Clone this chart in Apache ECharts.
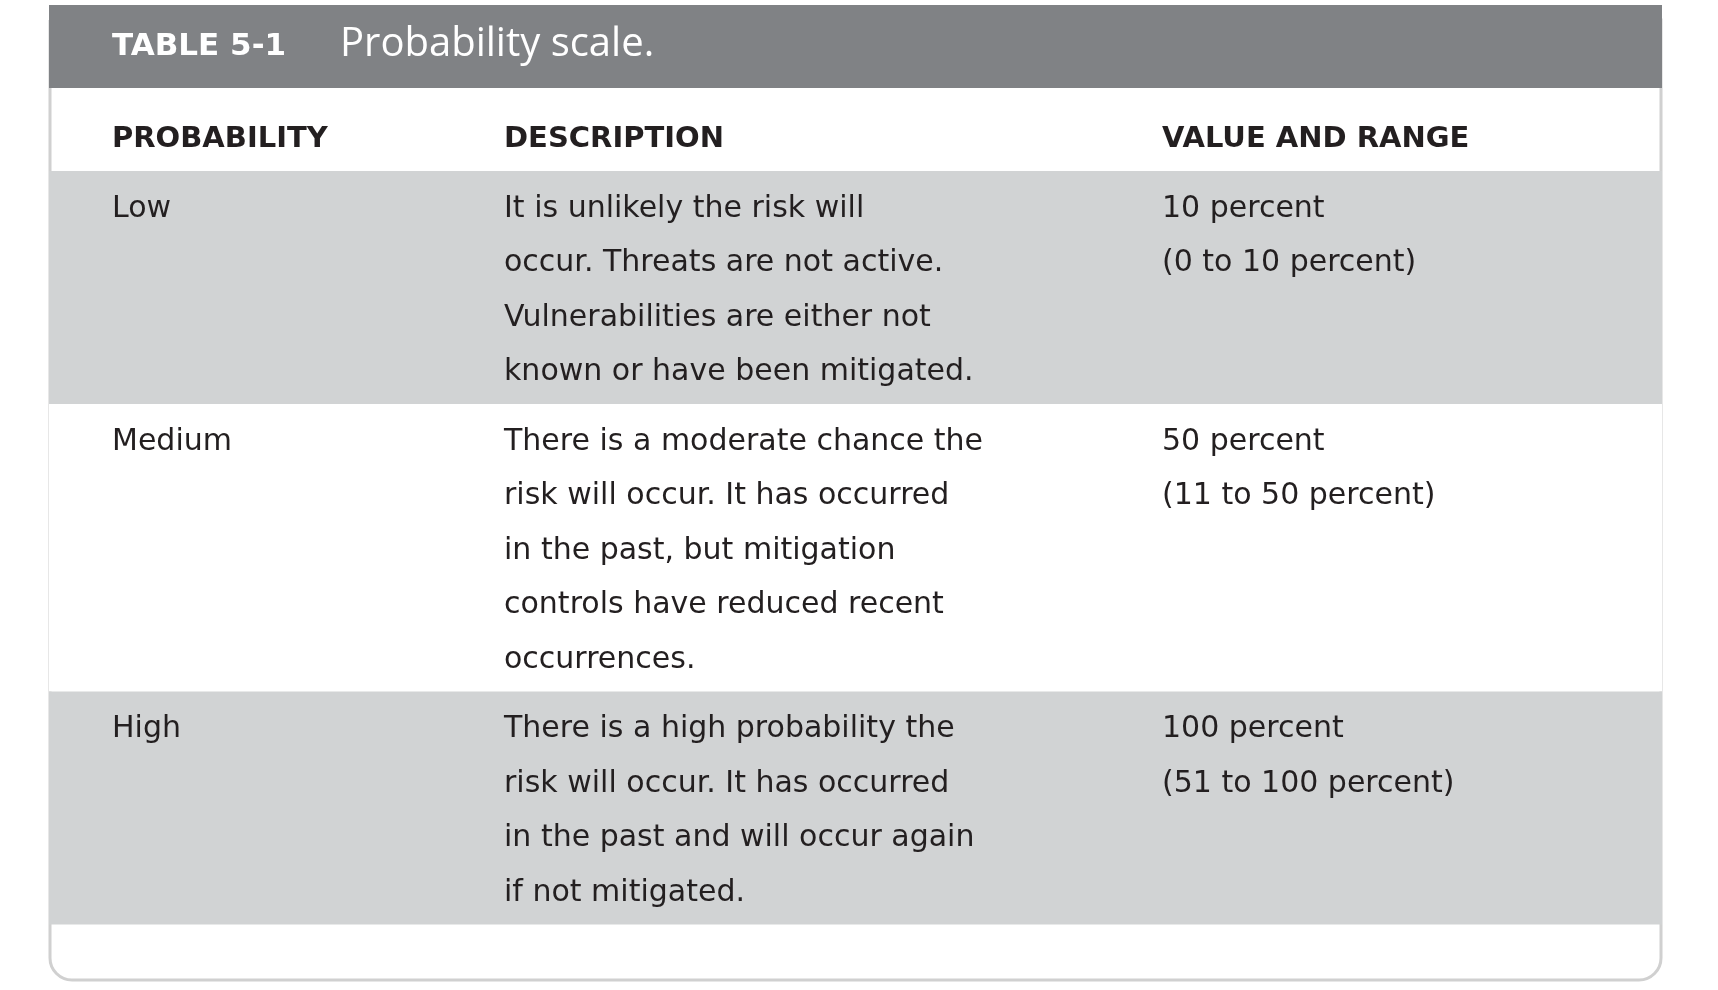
<!DOCTYPE html>
<html>
<head>
<meta charset="utf-8">
<script src="https://cdn.jsdelivr.net/npm/echarts@6/dist/echarts.min.js"></script>
<style>
  html, body { margin: 0; padding: 0; background: #fff; }
  #chart { width: 1718px; height: 990px; }
</style>
</head>
<body>
<div id="chart"></div>
<script>
// Table data
const tableLabel = 'TABLE 5-1';
const tableTitle = 'Probability scale.';
const columnHeaders = ['PROBABILITY', 'DESCRIPTION', 'VALUE AND RANGE'];
const probabilities = ['Low', 'Medium', 'High'];
const descriptions = [
    ['It is unlikely the risk will', 'occur. Threats are not active.', 'Vulnerabilities are either not', 'known or have been mitigated.'],
    ['There is a moderate chance the', 'risk will occur. It has occurred', 'in the past, but mitigation', 'controls have reduced recent', 'occurrences.'],
    ['There is a high probability the', 'risk will occur. It has occurred', 'in the past and will occur again', 'if not mitigated.']
];
const valueRanges = [
    ['10 percent', '(0 to 10 percent)'],
    ['50 percent', '(11 to 50 percent)'],
    ['100 percent', '(51 to 100 percent)']
];

const FONT = '"DejaVu Sans", "Open Sans", sans-serif';
const TEXT = '#231f20';
const left = 50, right = 1661;
const colX = [112, 504, 1162];
const lineH = 54.5;

const elements = [];

// outer frame with rounded bottom
elements.push({
    type: 'rect',
    shape: { x: left, y: 20, width: right - left, height: 960, r: [0, 0, 22, 22] },
    style: { fill: '#fff', stroke: '#d0d0d0', lineWidth: 3 }
});
// title bar
elements.push({
    type: 'rect',
    shape: { x: left - 1, y: 5, width: right - left + 2, height: 83 },
    style: { fill: '#808285' }
});
elements.push({
    type: 'text', x: colX[0], y: 47,
    style: { text: tableLabel, fill: '#fff', font: 'bold 31px ' + FONT, verticalAlign: 'middle' }
});
elements.push({
    type: 'text', x: 340, y: 45,
    style: { text: tableTitle, fill: '#fff', font: '40px "Liberation Sans Narrow", "Open Sans", sans-serif', verticalAlign: 'middle' }
});
// column headers
columnHeaders.forEach((h, i) => {
    elements.push({
        type: 'text', x: colX[i], y: 139,
        style: { text: h, fill: TEXT, font: 'bold 29px ' + FONT, verticalAlign: 'middle' }
    });
});

// body rows
let y = 171;
probabilities.forEach((p, i) => {
    const n = Math.max(descriptions[i].length, valueRanges[i].length);
    const h = n * lineH + 15;
    elements.push({
        type: 'rect',
        shape: { x: left - 1, y: y, width: right - left + 2, height: h },
        style: { fill: i % 2 === 0 ? '#d1d3d4' : '#fff' }
    });
    const lines = [[p], descriptions[i], valueRanges[i]];
    lines.forEach((col, c) => {
        col.forEach((t, k) => {
            elements.push({
                type: 'text', x: colX[c], y: y + 38 + k * lineH,
                style: { text: t, fill: TEXT, font: '30px ' + FONT, verticalAlign: 'middle' }
            });
        });
    });
    y += h;
});

const chart = echarts.init(document.getElementById('chart'));
chart.setOption({ animation: false, graphic: { elements: elements } });
</script>
</body>
</html>
